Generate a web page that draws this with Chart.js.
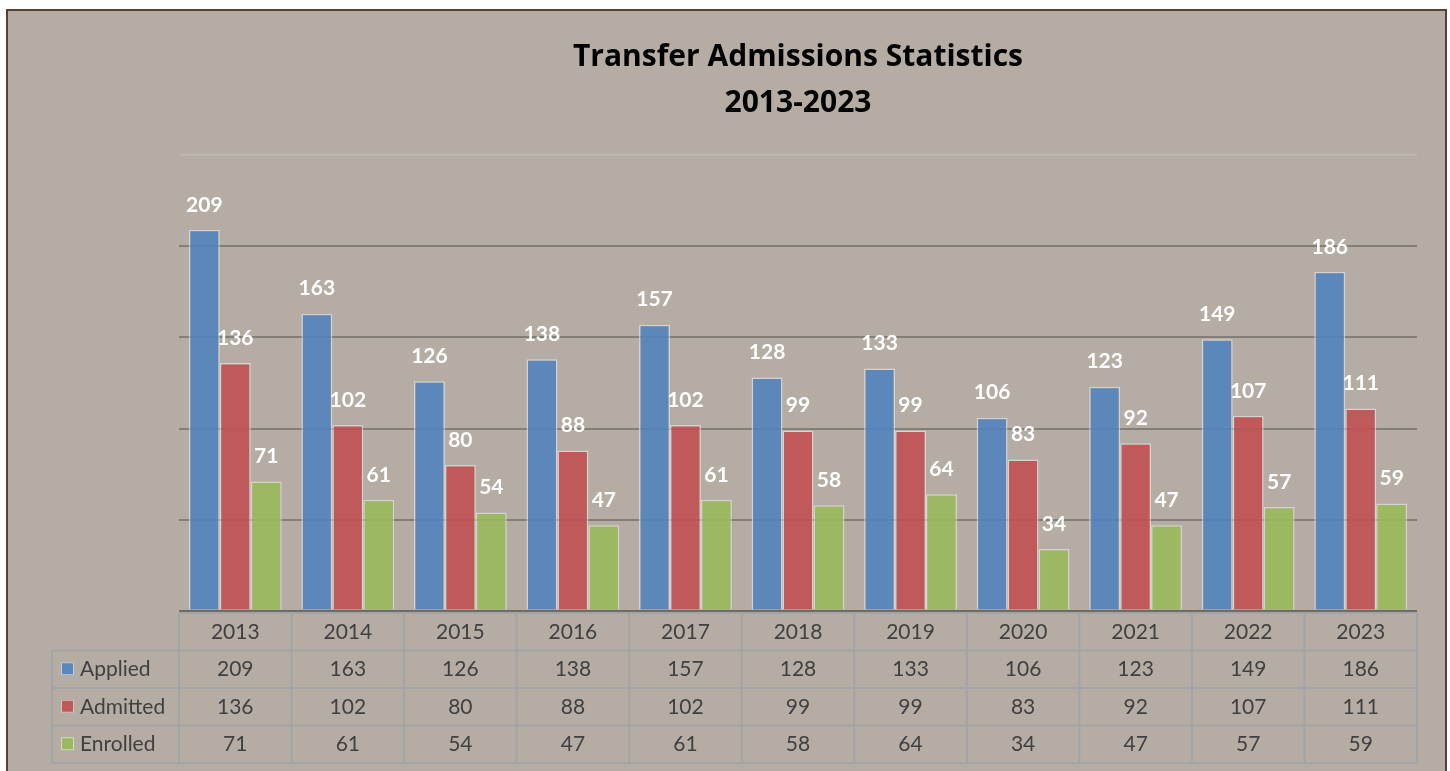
<!DOCTYPE html>
<html>
<head>
<meta charset="utf-8">
<script src="https://cdn.jsdelivr.net/npm/chart.js@4.4.1/dist/chart.umd.min.js"></script>
<style>
  html, body { margin: 0; padding: 0; background: #ffffff; width: 1450px; height: 771px; overflow: hidden; }
  #frame { position: absolute; left: 6px; top: 9px; width: 1437px; height: 800px; border: 2px solid #5a3e30; background: #b5ada4; }
  #wrap { position: absolute; left: 0; top: 0; width: 1450px; height: 771px; }
</style>
</head>
<body>
<div id="frame"></div>
<div id="wrap"><canvas id="c" width="1450" height="771"></canvas></div>
<script>
const categories = ['2013', '2014', '2015', '2016', '2017', '2018', '2019', '2020', '2021', '2022', '2023'];
const applied  = [209, 163, 126, 138, 157, 128, 133, 106, 123, 149, 186];
const admitted = [136, 102, 80, 88, 102, 99, 99, 83, 92, 107, 111];
const enrolled = [71, 61, 54, 47, 61, 58, 64, 34, 47, 57, 59];
const seriesNames = ['Applied', 'Admitted', 'Enrolled'];
const yMin = 0, yMax = 250, yStep = 50;
const titleLines = ['Transfer Admissions Statistics', '2013-2023'];

const fillColors = ['rgba(81,131,190,0.9)', 'rgba(193,80,82,0.9)', 'rgba(153,185,89,0.9)'];
const keyColors = ['#5b87bb', '#c0595a', '#9cb860'];
const FONT = 'Lato, "Open Sans", "Liberation Sans", sans-serif';
const TITLE_FONT = '"Open Sans", Lato, "Liberation Sans", sans-serif';

const valueLabels = {
  id: 'valueLabels',
  afterDatasetsDraw(chart) {
    const ctx = chart.ctx;
    ctx.save();
    ctx.fillStyle = '#ffffff';
    ctx.font = 'bold 21px ' + FONT;
    ctx.textAlign = 'center';
    ctx.textBaseline = 'middle';
    chart.data.datasets.forEach((ds, di) => {
      const meta = chart.getDatasetMeta(di);
      meta.data.forEach((bar, i) => {
        ctx.fillText(String(ds.data[i]), bar.x, bar.y - 25);
      });
    });
    ctx.restore();
  }
};

const dataTable = {
  id: 'dataTable',
  afterDraw(chart) {
    const ctx = chart.ctx;
    const area = chart.chartArea;
    const n = categories.length;
    const w = (area.right - area.left) / n;
    const rowH = 37.5;
    const top = area.bottom + 2;
    const legendLeft = 52;
    const xs = chart.scales.x;
    ctx.save();
    ctx.strokeStyle = '#a3a4a6';
    ctx.lineWidth = 2;
    ctx.beginPath();
    ctx.moveTo(area.left, top); ctx.lineTo(area.right, top);
    for (let r = 1; r <= 4; r++) {
      const y = top + r * rowH;
      ctx.moveTo(legendLeft, y); ctx.lineTo(area.right, y);
    }
    for (let i = 0; i <= n; i++) {
      const x = area.left + i * w;
      ctx.moveTo(x, top); ctx.lineTo(x, top + 4 * rowH);
    }
    ctx.moveTo(legendLeft, top + rowH); ctx.lineTo(legendLeft, top + 4 * rowH);
    ctx.stroke();

    ctx.fillStyle = '#404040';
    ctx.font = '21px ' + FONT;
    ctx.textBaseline = 'middle';
    ctx.textAlign = 'center';
    categories.forEach((c, i) => {
      ctx.fillText(c, xs.getPixelForValue(i), top + rowH / 2);
    });
    chart.data.datasets.forEach((ds, di) => {
      const yc = top + (di + 1) * rowH + rowH / 2;
      ctx.textAlign = 'center';
      ctx.fillStyle = '#404040';
      ds.data.forEach((v, i) => {
        ctx.fillText(String(v), xs.getPixelForValue(i), yc);
      });
      // legend key
      ctx.fillStyle = keyColors[di];
      ctx.fillRect(61, yc - 7, 13, 13);
      ctx.strokeStyle = 'rgba(235,235,235,0.7)';
      ctx.lineWidth = 1;
      ctx.strokeRect(61.5, yc - 6.5, 12, 12);
      ctx.fillStyle = '#404040';
      ctx.textAlign = 'left';
      ctx.fillText(ds.label, 80, yc);
    });
    ctx.restore();
  }
};

new Chart(document.getElementById('c'), {
  type: 'bar',
  data: {
    labels: categories,
    datasets: [
      { label: seriesNames[0], data: applied,  backgroundColor: fillColors[0] },
      { label: seriesNames[1], data: admitted, backgroundColor: fillColors[1] },
      { label: seriesNames[2], data: enrolled, backgroundColor: fillColors[2] }
    ]
  },
  options: {
    responsive: false,
    devicePixelRatio: 1,
    animation: false,
    layout: { padding: { left: 179, right: 33, top: 0, bottom: 160 } },
    datasets: {
      bar: {
        categoryPercentage: 0.825,
        barPercentage: 1.0,
        borderWidth: 1.5,
        borderColor: 'rgba(230,230,230,0.65)'
      }
    },
    plugins: {
      legend: { display: false },
      tooltip: { enabled: false },
      title: {
        display: true,
        text: titleLines,
        color: '#000000',
        font: { family: TITLE_FONT, size: 30, weight: 'bold', lineHeight: 46 / 30 },
        padding: { top: 34, bottom: 29 }
      }
    },
    scales: {
      x: { display: false },
      y: {
        min: yMin, max: yMax,
        ticks: { display: false, stepSize: yStep },
        border: { display: false },
        grid: {
          drawTicks: false,
          color: (c) => c.tick.value === yMin ? '#716b65' : (c.tick.value === yMax ? '#c0b9b1' : '#857e77'),
          lineWidth: (c) => c.tick.value === yMin ? 3 : (c.tick.value === yMax ? 1.5 : 2)
        }
      }
    }
  },
  plugins: [valueLabels, dataTable]
});
</script>
</body>
</html>
